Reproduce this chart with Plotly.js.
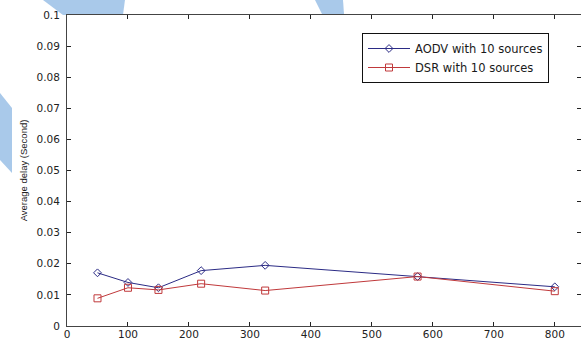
<!DOCTYPE html>
<html>
<head>
<meta charset="utf-8">
<script src="https://cdn.plot.ly/plotly-3.0.1.min.js"></script>
<style>html,body{margin:0;padding:0;background:#fff;}#chart{width:581px;height:339px;}</style>
</head>
<body>
<div id="chart"></div>
<script>
// Data
const xValues = [50, 100, 150, 220, 325, 575, 800];
const aodvDelay = [0.0171, 0.0140, 0.0123, 0.0178, 0.0195, 0.0159, 0.0126];
const dsrDelay = [0.0089, 0.0123, 0.0116, 0.0136, 0.0114, 0.0159, 0.0112];
const seriesNames = ["AODV with 10 sources", "DSR with 10 sources"];
const xTicks = [0, 100, 200, 300, 400, 500, 600, 700, 800];
const yTicks = [0, 0.01, 0.02, 0.03, 0.04, 0.05, 0.06, 0.07, 0.08, 0.09, 0.1];
const yTickText = ["0", "0.01", "0.02", "0.03", "0.04", "0.05", "0.06", "0.07", "0.08", "0.09", "0.1"];

const W = 581, H = 339, L = 67, R = 0, T = 15, B = 13;
const pw = W - L - R, ph = H - T - B;
function px(x) { return (x - L) / pw; }
function py(y) { return (H - B - y) / ph; }
function poly(pts) {
  return pts.map((p, i) => (i ? "L" : "M") + px(p[0]).toFixed(4) + "," + py(p[1]).toFixed(4)).join(" ") + " Z";
}
const wmColor = "#a9c9ea";
const shapes = [
  poly([[0,93],[12,108],[12,173],[0,160]]),
  poly([[43,0],[125,0],[123,15],[63,15]]),
  poly([[315,0],[343,0],[344,14],[322,14]])
].map(p => ({type: "path", path: p, xref: "paper", yref: "paper", fillcolor: wmColor, line: {width: 0}, layer: "below"}));

const tickFamily = "DejaVu Sans, sans-serif";

const traces = [
  {x: xValues, y: aodvDelay, name: seriesNames[0], type: "scatter", mode: "lines+markers",
   line: {color: "#2b2b85", width: 1}, marker: {symbol: "diamond-open", size: 6, color: "#2b2b85", line: {width: 1}}},
  {x: xValues, y: dsrDelay, name: seriesNames[1], type: "scatter", mode: "lines+markers",
   line: {color: "#c0393b", width: 1}, marker: {symbol: "square-open", size: 7, color: "#c0393b", line: {width: 1}}}
];

const layout = {
  width: W, height: H,
  margin: {l: L, r: R, t: T, b: B, pad: 0},
  paper_bgcolor: "#fff", plot_bgcolor: "#fff",
  font: {family: tickFamily, size: 10, color: "#222"},
  showlegend: true,
  legend: {x: px(362), y: py(33), xanchor: "left", yanchor: "top", bgcolor: "#fff",
           bordercolor: "#111", borderwidth: 1, font: {family: tickFamily, size: 11.5, color: "#1a1a1a"},
           tracegroupgap: 0, itemwidth: 42},
  xaxis: {range: [0, 843], tickvals: xTicks, ticktext: xTicks.map(String), ticks: "inside", ticklen: 4,
          tickcolor: "#222", showline: true, linecolor: "#444", linewidth: 1, mirror: "ticks",
          showgrid: false, zeroline: false, tickfont: {family: tickFamily, size: 10.5, color: "#222"}, ticklabelstandoff: -2},
  yaxis: {range: [0, 0.1], tickvals: yTicks, ticktext: yTickText, ticks: "inside", ticklen: 4,
          tickcolor: "#222", showline: true, linecolor: "#444", linewidth: 1, mirror: "ticks",
          showgrid: false, zeroline: false, tickfont: {family: tickFamily, size: 10.5, color: "#222"},
          ticklabelstandoff: 4,
          title: {text: "Average delay (Second)", font: {family: "Liberation Sans, Arial, sans-serif", size: 9.5, color: "#222"}, standoff: 7}},
  shapes: shapes
};

Plotly.newPlot("chart", traces, layout, {displayModeBar: false, staticPlot: true});
</script>
</body>
</html>
